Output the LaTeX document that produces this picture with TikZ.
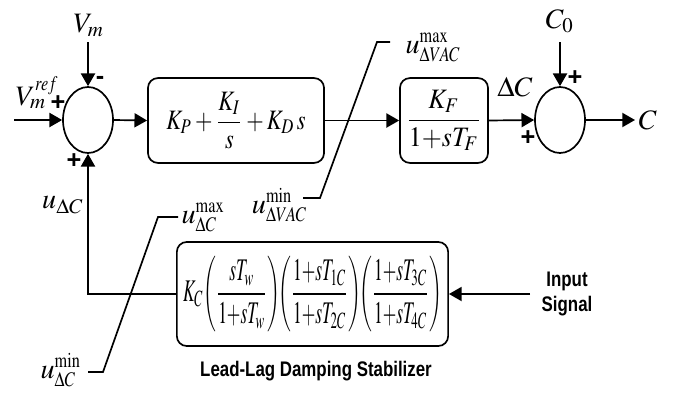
\documentclass[tikz,border=0pt]{standalone}
\usepackage{amsmath}
\usepackage{graphicx}
\usepackage{mathptmx}
\usepackage{fontspec}
\setmainfont{Liberation Serif}
\setsansfont{Liberation Sans}
\usetikzlibrary{arrows.meta,positioning,calc,shapes.geometric}
\newcommand{\narrowtxt}[1]{\scalebox{0.8}[1]{#1}}
\newcommand{\cs}[1]{\scalebox{0.78}[1]{$\scriptstyle #1$}}

\begin{document}
\begin{tikzpicture}[x=0.0125cm,y=-0.0125cm,line width=0.6pt,
    block/.style={draw,rounded corners=3.5pt,inner sep=0pt},
    sumnode/.style={draw,ellipse,minimum width=0.625cm,minimum height=0.825cm,inner sep=0pt},
    sig/.style={-{Triangle[length=4.5pt,width=5pt]}},
    sgn/.style={font=\sffamily\bfseries\small,inner sep=0pt},
    lbl/.style={inner sep=1pt},
    captext/.style={font=\sffamily\bfseries\fontsize{7.5}{9}\selectfont,align=center,inner sep=0pt}]
  \useasboundingbox (0,0) rectangle (676,397);
  % ---- forward path
  \node[sumnode] (s1) at (88,120) {};
  \node[block,minimum width=2.2cm,minimum height=1.06cm] (pid) at (236,120.5)
       {\scalebox{0.8}[1]{$\displaystyle K_P+\frac{K_I}{s}+K_D\,s$}};
  \node[block,minimum width=1.1cm,minimum height=1.06cm] (kf) at (444,120.5)
       {\scalebox{0.92}[1]{$\displaystyle\frac{K_F}{1{+}sT_F}$}};
  \node[sumnode] (s2) at (560,120) {};
  \draw[sig] (s1.east) -- (pid.west);
  \draw[sig] (pid.east) -- (kf.west);
  \draw[sig] (kf.east) -- (s2.west);
  % ---- inputs of the summing points
  \coordinate (vmin) at (88,42);
  \coordinate (refin) at (14,120);
  \coordinate (c0in) at (560,42);
  \coordinate (cout) at (635,120);
  \node[lbl,anchor=base] (vm) at (89,32) {$V_m$};
  \node[lbl,anchor=base west] (vref) at (12,105) {$V_m^{\cs{ref}}$};
  \node[lbl,anchor=base] (c0) at (560,28) {$C_0$};
  \node[lbl,anchor=west] (cc) at (cout) {$C$};
  \node[lbl,anchor=base] (dc) at (515,96) {$\Delta C$};
  \draw[sig] (vmin) -- (s1.north);
  \draw[sig] (refin) -- (s1.west);
  \draw[sig] (c0in) -- (s2.north);
  \draw[sig] (s2.east) -- (cout);
  \node[sgn] (m1) at (100,80) {-};
  \node[sgn] (p1) at (58,103) {+};
  \node[sgn] (p2) at (74,161) {+};
  \node[sgn] (p3) at (575,78) {+};
  \node[sgn] (p4) at (528,138) {+};
  % ---- limits of the PID output
  \coordinate (l1a) at (303,198);
  \coordinate (l1b) at (320,198);
  \coordinate (l1c) at (377,42);
  \coordinate (l1d) at (390,42);
  \draw (l1a) -- (l1b) -- (l1c) -- (l1d);
  \node[lbl,anchor=base west] (umax1) at ($(l1d)+(12,11)$) {$u_{\cs{\Delta VAC}}^{\cs{\max}}$};
  \node[lbl,anchor=base east] (umin1) at ($(l1a)+(8,15)$) {$u_{\cs{\Delta VAC}}^{\cs{\min}}$};
  % ---- stabilizer loop
  \node[block,minimum width=3.39cm,minimum height=1.3cm] (ll) at (312.5,294)
       {\scalebox{0.62}[1.12]{$\displaystyle K_C\!\left(\frac{sT_w}{1{+}sT_w}\right)\!\!\left(\frac{1{+}sT_{1C}}{1{+}sT_{2C}}\right)\!\!\left(\frac{1{+}sT_{3C}}{1{+}sT_{4C}}\right)$}};
  \node[captext] (llcap) at (316,371) {\narrowtxt{Lead-Lag Damping Stabilizer}};
  \coordinate (sigin) at (530,294);
  \node[captext] (insig) at (567,294) {\narrowtxt{Input}\\\narrowtxt{Signal}};
  \draw[sig] (sigin) -- (ll.east);
  \draw[sig] (ll.west) -| (s1.south);
  \node[lbl] (udc) at (63,205) {$u_{\Delta C}$};
  % ---- limits of the stabilizer output
  \coordinate (l2a) at (88,372);
  \coordinate (l2b) at (103,372);
  \coordinate (l2c) at (158,217);
  \coordinate (l2d) at (178,217);
  \draw (l2a) -- (l2b) -- (l2c) -- (l2d);
  \node[lbl,anchor=base west] (umax2) at ($(l2d)+(0,6)$) {$u_{\cs{\Delta C}}^{\cs{\max}}$};
  \node[lbl,anchor=base east] (umin2) at ($(l2a)+(-3,6)$) {$u_{\cs{\Delta C}}^{\cs{\min}}$};
\end{tikzpicture}
\end{document}
